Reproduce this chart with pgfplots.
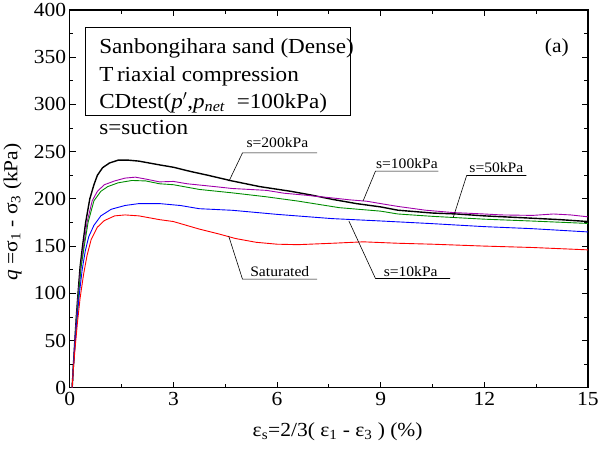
\documentclass[border=0pt]{standalone}
\usepackage{fontspec}
\setmainfont{Liberation Serif}[FakeStretch=1.08]
\usepackage{pgfplots}
\pgfplotsset{compat=1.18}
\definecolor{cpurple}{RGB}{160,0,170}
\definecolor{cgreen}{RGB}{0,140,0}
\definecolor{cblue}{RGB}{0,0,255}
\definecolor{cred}{RGB}{255,0,0}
\begin{document}
\begin{tikzpicture}
\begin{axis}[
 scale only axis, width=520pt, height=379pt,
 xmin=0, xmax=15, ymin=0, ymax=400,
 xtick={0,3,...,15}, ytick={0,50,...,400},
 minor x tick num=1, minor y tick num=1,
 tick align=inside, major tick length=6pt, minor tick length=3.5pt,
 tick style={line width=0.8pt, black},
 axis line style={line width=1.2pt},
 every tick label/.append style={font=\fontsize{20}{21}\selectfont},
 /pgf/number format/assume math mode=true,
 xticklabel style={yshift=-1pt},
 yticklabel style={xshift=0pt},
 xlabel={ε\textsubscript{s}=2/3( ε\textsubscript{1} - ε\textsubscript{3} ) (\%)},
 ylabel={\textit{q} =σ\textsubscript{1} - σ\textsubscript{3} (kPa)},
 label style={font=\fontsize{20}{21}\selectfont},
 xlabel style={at={(axis description cs:0.517,-0.1293)}, anchor=base},
 ylabel style={at={(axis description cs:-0.1105,0.465)}, anchor=center},
]
% s=200kPa
\addplot[black, line width=1.4pt] coordinates {(0.07,0)(0.1,20)(0.14,45)(0.19,75)(0.24,100)(0.3,128)(0.37,150)(0.46,175)(0.58,200)(0.7,215)(0.8,225)(0.95,233)(1.15,238)(1.4,241)(1.7,241)(2.0,240)(2.3,238)(2.6,236)(3.0,233.5)(3.5,229)(4.0,225)(4.7,219)(5.5,213)(6.4,208)(7.0,204)(7.6,199.5)(8.3,195)(9,191.5)(9.5,188)(10.5,185)(11.2,184)(12,182)(13.4,179.5)(14.2,178)(15,176)};
% s=100kPa
\addplot[cpurple, line width=0.9pt] coordinates {(0.07,0)(0.1,20)(0.14,45)(0.19,72)(0.25,100)(0.32,128)(0.4,150)(0.5,175)(0.65,198)(0.8,208)(1.0,215)(1.3,219)(1.6,222)(1.9,223)(2.2,221)(2.6,218)(3.0,218.5)(3.4,216)(3.8,214.5)(4.2,213)(4.7,211)(5.2,210)(5.7,209)(6.2,206)(6.8,204)(7.6,201)(8.1,199)(8.6,197.5)(9.0,195)(9.5,192)(10.3,188)(11.1,185.5)(12,184)(12.5,183)(13.4,182.5)(14,184)(14.5,183)(15,181)};
% s=50kPa
\addplot[cgreen, line width=0.9pt] coordinates {(0.07,0)(0.1,20)(0.15,45)(0.2,72)(0.26,100)(0.33,128)(0.42,150)(0.53,175)(0.7,198)(0.9,208)(1.1,213)(1.4,217)(1.8,219.5)(2.2,219)(2.6,216)(3.0,215)(3.75,210)(4.7,206.4)(5.67,202.3)(6.6,197.7)(7.8,190.7)(9,187)(9.5,184)(10.5,181.5)(12,178.5)(13.4,176.5)(15,174)};
% s=10kPa
\addplot[cblue, line width=0.9pt] coordinates {(0.07,0)(0.1,20)(0.15,45)(0.21,72)(0.28,100)(0.36,125)(0.45,145)(0.55,160)(0.7,172)(0.9,182)(1.2,189)(1.6,193)(2.0,195)(2.6,195)(3.2,193)(3.75,189.6)(4.71,187.9)(6,183.6)(7.6,179.1)(9,176.6)(10.48,173.8)(12,170.6)(13.36,168.5)(15,165)};
% Saturated
\addplot[cred, line width=0.9pt] coordinates {(0.07,0)(0.1,18)(0.15,40)(0.22,68)(0.3,95)(0.4,120)(0.5,140)(0.62,157)(0.8,170)(1.0,177)(1.3,182)(1.6,183)(2.0,182)(2.6,178)(3.0,176)(3.75,168)(4.3,163)(4.8,158)(5.4,154)(6,152)(6.6,151.5)(7.6,153)(8.5,154.5)(9.5,153)(10.5,152)(12,150)(13.4,148.5)(15,146)};

% text box
\draw[line width=0.8pt] (axis cs:0.45,381.3) rectangle (axis cs:8.13,288.1);
\node[anchor=base west, inner sep=0pt, font=\fontsize{21.5}{22}\selectfont] at (axis cs:0.85,354.3) {Sanbongihara sand (Dense)};
\node[anchor=base west, inner sep=0pt, font=\fontsize{21.5}{22}\selectfont] at (axis cs:0.85,324.3) {T\,riaxial compression};
\node[anchor=base west, inner sep=0pt, font=\fontsize{21.5}{22}\selectfont] at (axis cs:0.85,296.2) {CDtest(\textit{p}$'$,\textit{p}\textsubscript{\textit{net}}\ \ =100kPa)};
\node[anchor=base west, inner sep=0pt, font=\fontsize{21.5}{22}\selectfont] at (axis cs:0.85,268) {s=suction};
\node[anchor=center, inner sep=0pt, font=\fontsize{20}{21}\selectfont] at (axis cs:14.1,360) {(a)};

% annotations
\node[anchor=base, inner sep=0pt, font=\fontsize{14.5}{15}\selectfont] at (axis cs:6.01,254) {s=200kPa};
\draw[line width=0.6pt] (axis cs:7.16,248.7) -- (axis cs:5.0,248.7) -- (axis cs:4.61,218.8);
\node[anchor=base, inner sep=0pt, font=\fontsize{14.5}{15}\selectfont] at (axis cs:9.76,231.9) {s=100kPa};
\draw[line width=0.6pt] (axis cs:10.67,229.4) -- (axis cs:8.85,229.4) -- (axis cs:8.49,197.7);
\node[anchor=base, inner sep=0pt, font=\fontsize{14.5}{15}\selectfont] at (axis cs:12.35,228.3) {s=50kPa};
\draw[line width=0.6pt] (axis cs:13.22,224.8) -- (axis cs:11.49,224.8) -- (axis cs:11.1,180.2);
\node[anchor=base, inner sep=0pt, font=\fontsize{14.5}{15}\selectfont] at (axis cs:6.08,117.9) {Saturated};
\draw[line width=0.6pt] (axis cs:7.16,115) -- (axis cs:5.0,115) -- (axis cs:4.6,160.7);
\node[anchor=base, inner sep=0pt, font=\fontsize{14.5}{15}\selectfont] at (axis cs:9.87,117.9) {s=10kPa};
\draw[line width=0.6pt] (axis cs:11.01,115.7) -- (axis cs:8.85,115.7) -- (axis cs:8.08,176.6);
\end{axis}
\path ([shift={(-70pt,-61pt)}]current axis.south west) rectangle ([shift={(12pt,10pt)}]current axis.north east);
\end{tikzpicture}
\end{document}
